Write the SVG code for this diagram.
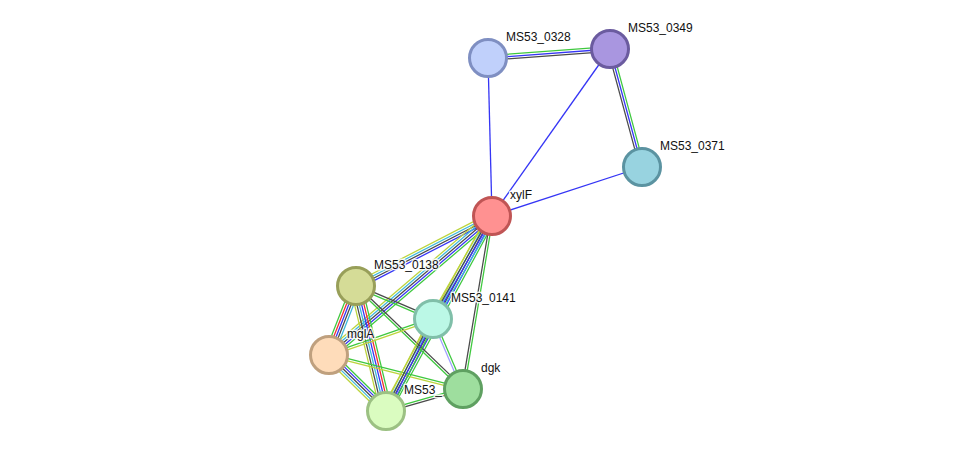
<svg xmlns="http://www.w3.org/2000/svg" width="975" height="457" viewBox="0 0 975 457">
<style>
line{stroke-width:1.1;fill:none}
.g{stroke:#3ec83e}.b{stroke:#3535f5}.k{stroke:#4a4a4a}.y{stroke:#bcd43c}.c{stroke:#3cb8dc}.r{stroke:#f03030}.l{stroke:#a0a0ff}
circle{stroke-width:3}
text{font-family:"Liberation Sans",Arial,sans-serif;font-size:12px;fill:#111;stroke:#fff;stroke-width:3;stroke-opacity:0.85;paint-order:stroke;stroke-linejoin:round}
</style>
<rect width="975" height="457" fill="#fff"/>
<g id="edges">
<g transform="translate(488,58) rotate(-4.22) scale(1,1.15)"><line class="g" x1="0" y1="-2" x2="122.3" y2="-2"/><line class="b" x1="0" y1="0" x2="122.3" y2="0"/><line class="k" x1="0" y1="2" x2="122.3" y2="2"/></g>
<g transform="translate(610,49) rotate(74.83) scale(1,1.15)"><line class="g" x1="0" y1="-2" x2="122.3" y2="-2"/><line class="b" x1="0" y1="0" x2="122.3" y2="0"/><line class="k" x1="0" y1="2" x2="122.3" y2="2"/></g>
<line class="b" x1="492" y1="216" x2="488" y2="58" style="stroke-width:1.3"/>
<line class="b" x1="492" y1="216" x2="610" y2="49" style="stroke-width:1.3"/>
<line class="b" x1="492" y1="216" x2="642" y2="167" style="stroke-width:1.3"/>
<g transform="translate(492,216) rotate(152.76) scale(1,1.15)"><line class="y" x1="0" y1="3" x2="153" y2="3"/><line class="c" x1="0" y1="1" x2="153" y2="1"/><line class="k" x1="0" y1="-1" x2="153" y2="-1"/><line class="b" x1="0" y1="-3" x2="153" y2="-3"/></g>
<g transform="translate(492,216) rotate(139.55) scale(1,1.15)"><line class="y" x1="0" y1="4" x2="214.2" y2="4"/><line class="c" x1="0" y1="2" x2="214.2" y2="2"/><line class="k" x1="0" y1="0" x2="214.2" y2="0"/><line class="b" x1="0" y1="-2" x2="214.2" y2="-2"/><line class="g" x1="0" y1="-4" x2="214.2" y2="-4"/></g>
<g transform="translate(492,216) rotate(118.53) scale(1,1.15)"><line class="y" x1="0" y1="4" x2="222" y2="4"/><line class="c" x1="0" y1="2" x2="222" y2="2"/><line class="k" x1="0" y1="0" x2="222" y2="0"/><line class="b" x1="0" y1="-2" x2="222" y2="-2"/><line class="g" x1="0" y1="-4" x2="222" y2="-4"/></g>
<g transform="translate(492,216) rotate(119.8) scale(1,1.15)"><line class="y" x1="0" y1="3" x2="118.7" y2="3"/><line class="k" x1="0" y1="1" x2="118.7" y2="1"/><line class="b" x1="0" y1="-1" x2="118.7" y2="-1"/><line class="c" x1="0" y1="-3" x2="118.7" y2="-3"/></g>
<g transform="translate(492,216) rotate(99.52) scale(1,1.15)"><line class="k" x1="0" y1="1" x2="175.4" y2="1"/><line class="g" x1="0" y1="-1" x2="175.4" y2="-1"/></g>
<g transform="translate(356,286) rotate(111.37) scale(1,1.15)"><line class="g" x1="0" y1="4" x2="74.1" y2="4"/><line class="r" x1="0" y1="2" x2="74.1" y2="2"/><line class="b" x1="0" y1="0" x2="74.1" y2="0"/><line class="k" x1="0" y1="-2" x2="74.1" y2="-2"/><line class="c" x1="0" y1="-4" x2="74.1" y2="-4"/></g>
<g transform="translate(356,286) rotate(76.5) scale(1,1.15)"><line class="y" x1="0" y1="5" x2="128.6" y2="5"/><line class="k" x1="0" y1="3" x2="128.6" y2="3"/><line class="c" x1="0" y1="1" x2="128.6" y2="1"/><line class="b" x1="0" y1="-1" x2="128.6" y2="-1"/><line class="r" x1="0" y1="-3" x2="128.6" y2="-3"/><line class="g" x1="0" y1="-5" x2="128.6" y2="-5"/></g>
<g transform="translate(356,286) rotate(23.2) scale(1,1.15)"><line class="k" x1="0" y1="-1" x2="83.8" y2="-1"/><line class="g" x1="0" y1="1" x2="83.8" y2="1"/></g>
<g transform="translate(356,286) rotate(43.91) scale(1,1.15)"><line class="k" x1="0" y1="-1" x2="148.5" y2="-1"/><line class="g" x1="0" y1="1" x2="148.5" y2="1"/></g>
<g transform="translate(329,355) rotate(-19.09) scale(1,1.15)"><line class="g" x1="0" y1="-1" x2="110" y2="-1"/><line class="y" x1="0" y1="1" x2="110" y2="1"/></g>
<g transform="translate(329,355) rotate(44.49) scale(1,1.15)"><line class="y" x1="0" y1="4" x2="79.9" y2="4"/><line class="c" x1="0" y1="2" x2="79.9" y2="2"/><line class="k" x1="0" y1="0" x2="79.9" y2="0"/><line class="b" x1="0" y1="-2" x2="79.9" y2="-2"/><line class="g" x1="0" y1="-4" x2="79.9" y2="-4"/></g>
<g transform="translate(329,355) rotate(14.24) scale(1,1.15)"><line class="g" x1="0" y1="-1" x2="138.3" y2="-1"/><line class="y" x1="0" y1="1" x2="138.3" y2="1"/></g>
<g transform="translate(433,319) rotate(117.06) scale(1,1.15)"><line class="y" x1="0" y1="3" x2="103.3" y2="3"/><line class="k" x1="0" y1="1" x2="103.3" y2="1"/><line class="b" x1="0" y1="-1" x2="103.3" y2="-1"/><line class="g" x1="0" y1="-3" x2="103.3" y2="-3"/></g>
<g transform="translate(433,319) rotate(66.8) scale(1,1.15)"><line class="l" x1="0" y1="1" x2="76.2" y2="1"/><line class="g" x1="0" y1="-1" x2="76.2" y2="-1"/></g>
<g transform="translate(386,411) rotate(-15.95) scale(1,1.15)"><line class="g" x1="0" y1="-1" x2="80.1" y2="-1"/><line class="k" x1="0" y1="1" x2="80.1" y2="1"/></g>
</g>
<g id="n-MS53_0328"><circle cx="488" cy="58" r="18.5" fill="#c0d0fb" stroke="#7f8fc2"/><text x="506" y="41">MS53_0328</text></g>
<g id="n-MS53_0349"><circle cx="610" cy="49" r="18.5" fill="#a996e0" stroke="#6b5b9f"/><text x="628" y="32">MS53_0349</text></g>
<g id="n-MS53_0371"><circle cx="642" cy="167" r="18.5" fill="#98d3e0" stroke="#5b93a1"/><text x="660" y="150">MS53_0371</text></g>
<g id="n-xylF"><circle cx="492" cy="216" r="18.5" fill="#ff9191" stroke="#c05555"/><text x="510" y="199">xylF</text></g>
<g id="n-MS53_0138"><circle cx="356" cy="286" r="18.5" fill="#d5dc97" stroke="#989f59"/><text x="374" y="269">MS53_0138</text></g>
<g id="n-MS53_0141"><circle cx="433" cy="319" r="18.5" fill="#bbf8e6" stroke="#80bfa9"/><text x="451" y="302">MS53_0141</text></g>
<g id="n-mglA"><circle cx="329" cy="355" r="18.5" fill="#fedcba" stroke="#bfa07e"/><text x="347" y="338">mglA</text></g>
<g id="n-MS53_"><circle cx="386" cy="411" r="18.5" fill="#dafcc0" stroke="#9cc183"/><text x="404" y="394">MS53_</text></g>
<g id="n-dgk"><circle cx="463" cy="389" r="18.5" fill="#9ede9e" stroke="#5fa061"/><text x="481" y="372">dgk</text></g>
</svg>
